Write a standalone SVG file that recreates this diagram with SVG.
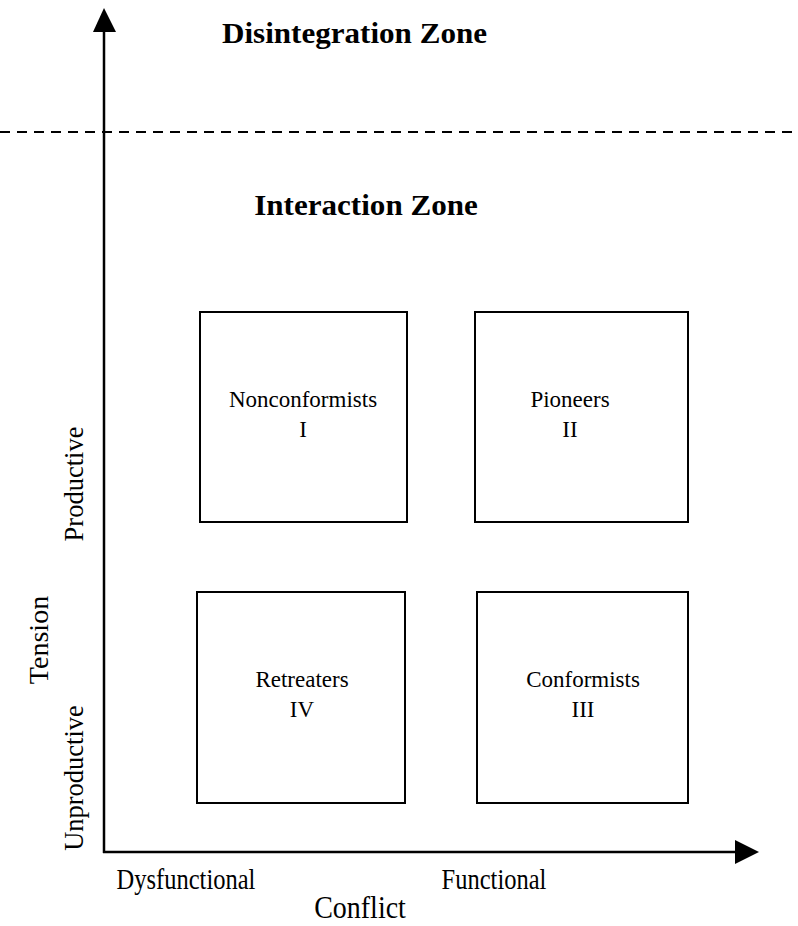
<svg xmlns="http://www.w3.org/2000/svg" width="798" height="926" viewBox="0 0 798 926">
<style>
.t{font-family:"Liberation Serif","Times New Roman",serif;font-size:23px;fill:#000;text-anchor:middle}
.a{font-family:"Liberation Serif","Times New Roman",serif;font-size:24.5px;fill:#000;text-anchor:middle}
.r{font-family:"Liberation Serif","Times New Roman",serif;font-size:26.5px;fill:#000;text-anchor:middle}
.b{font-family:"Liberation Serif","Times New Roman",serif;font-size:28px;fill:#000;text-anchor:middle}
.h{font-family:"Liberation Serif","Times New Roman",serif;font-size:28px;font-weight:bold;fill:#000;text-anchor:middle}
.box{fill:#fff;stroke:#000;stroke-width:2}
.ax{stroke:#000;stroke-width:2.5;fill:none}
</style>
<rect width="798" height="926" fill="#fff"/>
<g id="connectors">
<line class="ax" x1="104" y1="853" x2="104" y2="28"/>
<polygon points="104,8 93,32 116,32" fill="#000"/>
<line class="ax" x1="103" y1="852" x2="740" y2="852"/>
<polygon points="759,852 735,840 735,864" fill="#000"/>
<line x1="0" y1="132" x2="798" y2="132" stroke="#000" stroke-width="2" stroke-dasharray="10,7"/>
</g>
<g id="zone-disintegration"><text class="h" transform="translate(354.5,43) scale(1.11,1.04)">Disintegration Zone</text></g>
<g id="zone-interaction"><text class="h" transform="translate(366,215) scale(1.11,1.04)">Interaction Zone</text></g>
<g id="n1"><rect class="box" x="200" y="312" width="207" height="210"/>
<text class="t" x="303" y="407">Nonconformists</text>
<text class="t" x="303" y="437">I</text></g>
<g id="n2"><rect class="box" x="475" y="312" width="213" height="210"/>
<text class="t" x="570" y="407">Pioneers</text>
<text class="t" x="570" y="437">II</text></g>
<g id="n4"><rect class="box" x="197" y="592" width="208" height="211"/>
<text class="t" x="302" y="687">Retreaters</text>
<text class="t" x="302" y="717">IV</text></g>
<g id="n3"><rect class="box" x="477" y="592" width="211" height="211"/>
<text class="t" x="583" y="687">Conformists</text>
<text class="t" x="583" y="717">III</text></g>
<g id="axis-labels">
<text class="r" transform="translate(83,484) rotate(-90)">Productive</text>
<text class="b" transform="translate(48,640) rotate(-90)">Tension</text>
<text class="r" transform="translate(83,778) rotate(-90)">Unproductive</text>
<text class="a" transform="translate(186,889) scale(1,1.17)">Dysfunctional</text>
<text class="a" transform="translate(494,889) scale(1,1.17)">Functional</text>
<text class="b" transform="translate(360,918) scale(1,1.1)">Conflict</text>
</g>
</svg>
